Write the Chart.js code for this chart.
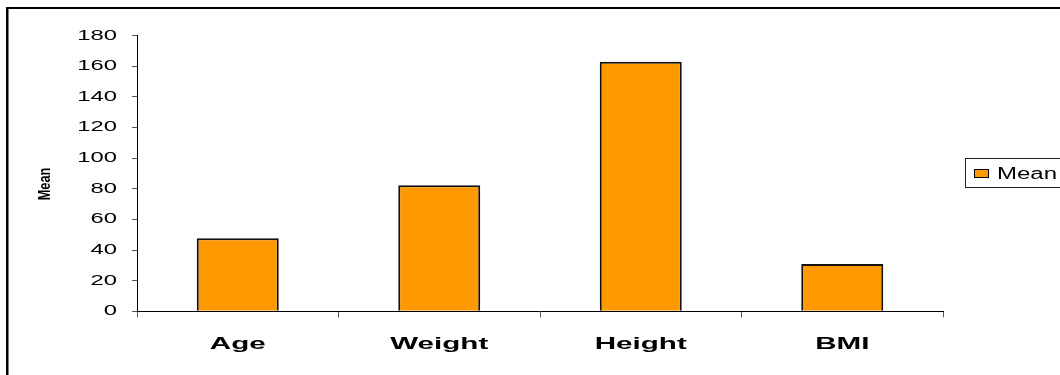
<!DOCTYPE html>
<html>
<head>
<meta charset="utf-8">
<title>Mean</title>
<script src="https://cdn.jsdelivr.net/npm/chart.js@4/dist/chart.umd.min.js"></script>
<style>
  html, body { margin: 0; padding: 0; background: #fff; }
  #wrap { position: relative; width: 1060px; height: 375px; overflow: hidden; }
  canvas { display: block; }
</style>
</head>
<body>
<div id="wrap"><canvas id="chart" width="1060" height="375"></canvas></div>
<script>
// Chart data
const categories = ['Age', 'Weight', 'Height', 'BMI'];
const meanValues = [47.7, 82.3, 163.0, 30.9];
const seriesName = 'Mean';
const axisTitle = 'Mean';
const yMin = 0;
const yMax = 180;
const yStep = 20;

const barFill = '#FF9900';
const inkColor = '#000000';
const sansFont = '"Liberation Sans", Arial, sans-serif';

// Draws text stretched horizontally by sx
function wideText(ctx, text, x, y, sx, align) {
  ctx.save();
  ctx.translate(x, y);
  ctx.scale(sx, 1);
  ctx.textAlign = align;
  ctx.fillText(text, 0, 0);
  ctx.restore();
}

const textAndFrame = {
  id: 'textAndFrame',
  afterDraw(chart) {
    const ctx = chart.ctx;
    const xs = chart.scales.x;
    const ys = chart.scales.y;
    ctx.save();
    ctx.fillStyle = inkColor;

    // outer frame (top and left edges)
    ctx.fillRect(6, 7, chart.width, 2);
    ctx.fillRect(6, 7, 2.5, chart.height);

    // value axis labels
    ctx.font = '14px ' + sansFont;
    ctx.textBaseline = 'middle';
    ys.ticks.forEach(t => {
      wideText(ctx, String(t.value), ys.right - 20, ys.getPixelForValue(t.value), 1.7, 'right');
    });

    // category labels
    ctx.font = 'bold 17px ' + sansFont;
    ctx.textBaseline = 'alphabetic';
    categories.forEach((c, i) => {
      wideText(ctx, c, xs.getPixelForTick(i), xs.top + 38, 1.74, 'center');
    });

    // value axis title (condensed along its length)
    ctx.save();
    ctx.font = 'bold 17px ' + sansFont;
    ctx.textAlign = 'center';
    ctx.textBaseline = 'middle';
    ctx.translate(45, 184);
    ctx.rotate(-Math.PI / 2);
    ctx.scale(0.75, 1);
    ctx.fillText(axisTitle, 0, 0);
    ctx.restore();

    // legend
    const ds = chart.data.datasets[0];
    ctx.lineWidth = 1;
    ctx.strokeStyle = '#222';
    ctx.strokeRect(965.5, 158.5, 120, 29);
    ctx.fillStyle = ds.backgroundColor;
    ctx.fillRect(974, 169, 15, 9);
    ctx.strokeStyle = inkColor;
    ctx.strokeRect(974.5, 169.5, 14, 8);
    ctx.fillStyle = inkColor;
    ctx.font = '16px ' + sansFont;
    ctx.textBaseline = 'alphabetic';
    wideText(ctx, ds.label, 997, 178.5, 1.5, 'left');

    ctx.restore();
  }
};

new Chart(document.getElementById('chart'), {
  type: 'bar',
  data: {
    labels: categories,
    datasets: [{
      label: seriesName,
      data: meanValues,
      backgroundColor: barFill,
      borderColor: '#111',
      borderWidth: 2,
      categoryPercentage: 1,
      barPercentage: 0.407
    }]
  },
  options: {
    responsive: false,
    animation: false,
    events: [],
    layout: { padding: { left: 0, top: 35.7, right: 117, bottom: 0 } },
    plugins: {
      legend: { display: false },
      tooltip: { enabled: false },
      title: { display: false }
    },
    scales: {
      x: {
        offset: true,
        ticks: { display: false },
        grid: {
          display: true,
          offset: true,
          drawOnChartArea: false,
          drawTicks: true,
          tickLength: 6,
          color: '#555'
        },
        border: { display: true, color: inkColor, width: 1 },
        afterFit: s => { s.height = 63.7; }
      },
      y: {
        min: yMin,
        max: yMax,
        ticks: { display: false, stepSize: yStep },
        grid: {
          display: true,
          drawOnChartArea: false,
          drawTicks: true,
          tickLength: 5,
          color: '#555'
        },
        border: { display: true, color: inkColor, width: 1 },
        afterFit: s => { s.width = 137; }
      }
    }
  },
  plugins: [textAndFrame]
});
</script>
</body>
</html>
